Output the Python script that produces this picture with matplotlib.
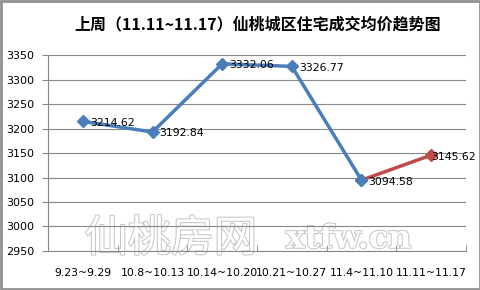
import matplotlib.pyplot as plt
import matplotlib.patheffects as pe

plt.rcParams['font.family'] = ['Noto Sans CJK SC', 'DejaVu Sans']

weeks = ['9.23~9.29', '10.8~10.13', '10.14~10.20', '10.21~10.27', '11.4~11.10', '11.11~11.17']
prices = [3214.62, 3192.84, 3332.06, 3326.77, 3094.58, 3145.62]
yticks = [2950, 3000, 3050, 3100, 3150, 3200, 3250, 3300, 3350]

blue = '#4a7ebb'
red = '#be4b48'

fig = plt.figure(figsize=(4.81, 2.90), dpi=100)
fig.patch.set_facecolor('white')
fig.patches.append(plt.Rectangle((0.002, 0.003), 0.996, 0.994, transform=fig.transFigure,
                                 fill=False, edgecolor='#909090', linewidth=2))
ax = fig.add_axes([0.0998, 0.1345, 0.869, 0.6758])
ax.set_facecolor('none')
ax.set_zorder(3)

x = list(range(len(weeks)))
ax.plot(x[:5], prices[:5], color=blue, linewidth=2.5, marker='D', markersize=6, zorder=3)
ax.plot(x[4:], prices[4:], color=red, linewidth=2.5, zorder=3)
ax.plot(x[5], prices[5], color=red, marker='D', markersize=6, zorder=4)
ax.plot(x[4], prices[4], color=blue, marker='D', markersize=6, zorder=5)

# 最后一个标签贴着点放，否则会出界
for i, (xi, p) in enumerate(zip(x, prices)):
    dx = 0 if i == len(x) - 1 else 5
    ax.annotate('%.2f' % p, (xi, p), xytext=(dx, -1), textcoords='offset points',
                va='center', ha='left', fontsize=7.8, family='DejaVu Sans', zorder=6)

ax.set_xlim(-0.5, 5.5)
ax.set_ylim(2950, 3350)
ax.set_yticks(yticks)
ax.set_yticklabels([str(v) for v in yticks], fontsize=8, family='DejaVu Sans')
ax.set_xticks(x)
ax.set_xticklabels(weeks, fontsize=7.8, family='DejaVu Sans')
ax.set_xticks([i + 0.5 for i in range(-1, 6)], minor=True)
ax.tick_params(axis='x', which='major', length=0, pad=12)
ax.tick_params(axis='x', which='minor', length=4, color='#888888', direction='in')
ax.tick_params(axis='y', length=4, color='#888888', pad=6)
ax.grid(axis='y', color='#888888', linewidth=0.8)
for s in ['top', 'right']:
    ax.spines[s].set_visible(False)
ax.spines['left'].set_color('#888888')
ax.spines['bottom'].set_color('#888888')

fig.text(0.535, 0.915, '上周（11.11~11.17）仙桃城区住宅成交均价趋势图', ha='center', va='center',
         fontsize=11.5, fontweight='bold')

outline = [pe.withStroke(linewidth=1.5, foreground='#c8c8c8')]
fig.text(0.355, 0.175, '仙桃房网', ha='center', va='center', fontsize=31,
         color='white', path_effects=outline, zorder=1)
fig.text(0.725, 0.175, 'xtfw.cn', ha='center', va='center', fontsize=23, family='DejaVu Serif',
         fontweight='bold', color='white', path_effects=outline, zorder=1)

fig.savefig('out.png', dpi=100)
